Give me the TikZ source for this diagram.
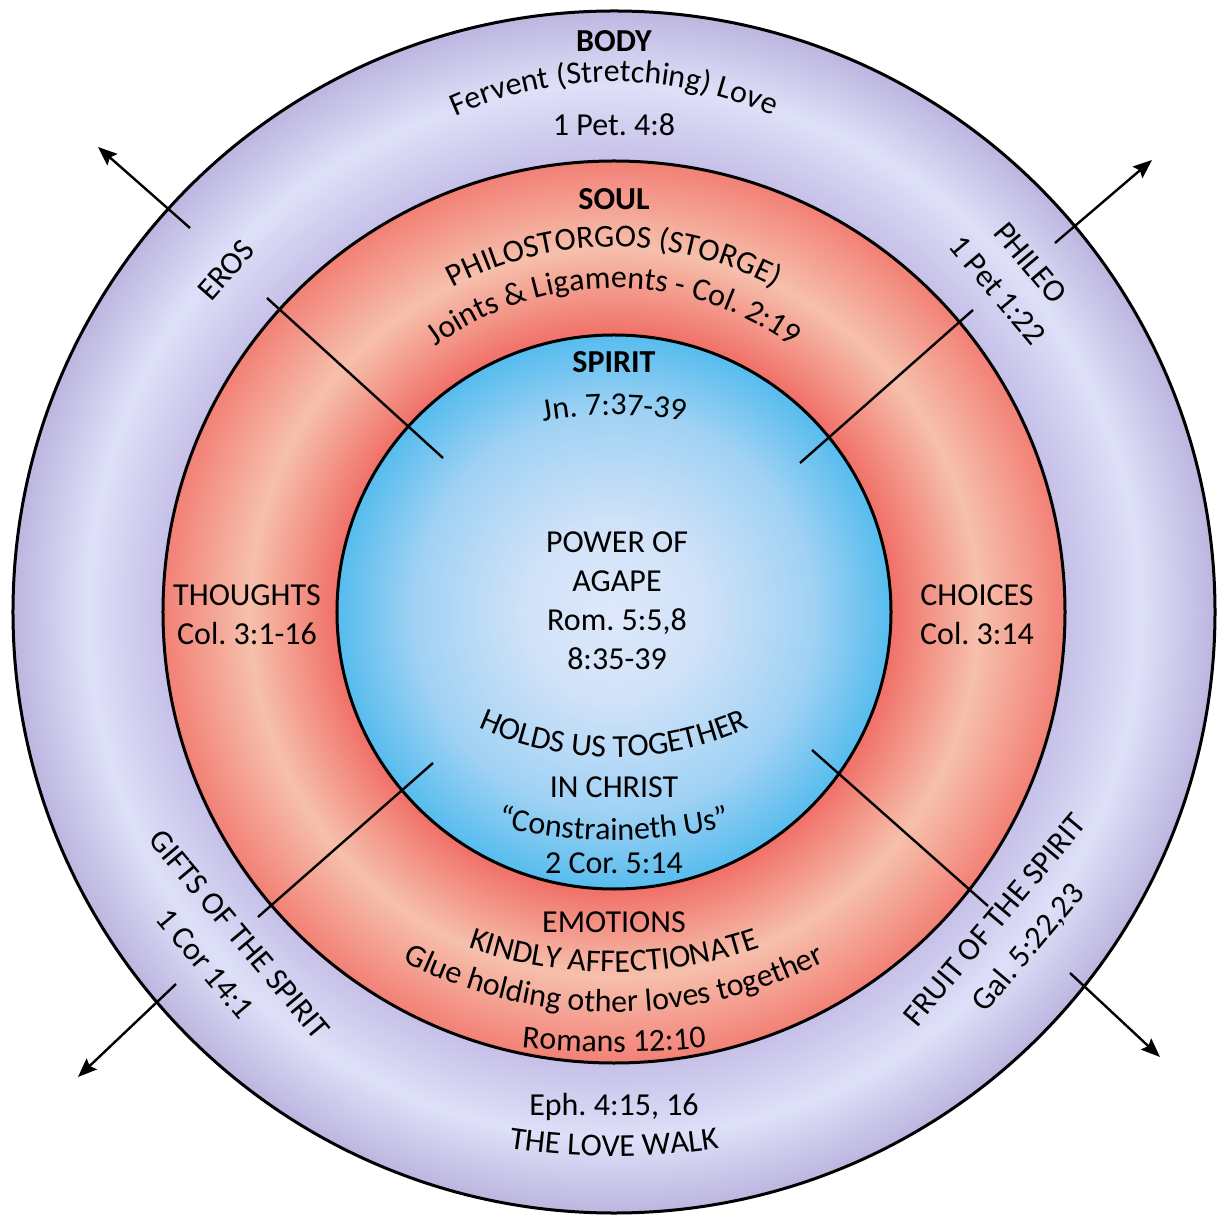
\documentclass[tikz,border=0pt]{standalone}
\usepackage{fontspec}
\setmainfont{Carlito}
\usepackage{xcolor}
\usepackage{tikz}
\usetikzlibrary{arrows.meta, decorations.text}

\definecolor{bodyedge}{RGB}{188,182,224}
\definecolor{bodymid}{RGB}{222,224,248}
\definecolor{bodyinner}{RGB}{198,192,232}
\definecolor{souledge}{RGB}{242,128,118}
\definecolor{soulmid}{RGB}{246,192,172}
\definecolor{soulinner}{RGB}{240,112,104}
\definecolor{spiritmid}{RGB}{222,232,250}
\definecolor{spiritsoft}{RGB}{208,226,248}
\definecolor{spiritblue}{RGB}{160,210,244}
\definecolor{spiritedge}{RGB}{86,188,238}

\pgfdeclareradialshading{bodyring}{\pgfpoint{0bp}{0bp}}{%
  color(0bp)=(bodyinner); color(18.76bp)=(bodyinner); color(21.9bp)=(bodymid);
  color(25bp)=(bodyedge); color(50bp)=(bodyedge)}
\pgfdeclareradialshading{soulring}{\pgfpoint{0bp}{0bp}}{%
  color(0bp)=(soulinner); color(15.35bp)=(soulinner); color(20.2bp)=(soulmid);
  color(25bp)=(souledge); color(50bp)=(souledge)}
\pgfdeclareradialshading{spiritdisc}{\pgfpoint{0bp}{0bp}}{%
  color(0bp)=(spiritmid); color(8bp)=(spiritsoft); color(18bp)=(spiritblue);
  color(25bp)=(spiritedge); color(50bp)=(spiritedge)}

\newcommand\ringfont{\fontsize{16}{19.5}\selectfont}
\frenchspacing

\begin{document}
\begin{tikzpicture}[
    x=0.5pt, y=0.5pt,
    font=\ringfont,
    ring/.style={draw=black, line width=1.5pt},
    heading/.style={font=\ringfont\bfseries, anchor=base},
    words/.style={align=center, inner sep=0pt},
    line/.style={anchor=base, inner sep=0pt},
    spoke/.style={draw=black, line width=1.2pt},
    outward/.style={spoke, -{Stealth[length=9.5pt, width=7.5pt, inset=1.5pt]}},
    curved/.style={decorate, decoration={text along path, text align=center,
                   text={|\ringfont|#1}}}
]
\useasboundingbox (-614,-607) rectangle (610,612);
\fill[white] (-614,-607) rectangle (610,612);

% the three circles
\shade[ring, shading=bodyring] (0,0) circle (601);
\shade[ring, shading=soulring] (0,0) circle (451);
\shade[ring, shading=spiritdisc] (0,0) circle (277);

% spokes and arrows
\coordinate (ul-in)  at (-171,154);
\coordinate (ul-out) at (-347,314);
\coordinate (ul-tail) at (-424,384);
\coordinate (ul-tip)  at (-516,465);
\coordinate (ur-in)  at (186,149);
\coordinate (ur-out) at (359,302);
\coordinate (ur-tail) at (441,369);
\coordinate (ur-tip)  at (538,452);
\coordinate (ll-in)  at (-181,-151);
\coordinate (ll-out) at (-356,-305);
\coordinate (ll-tail) at (-438,-372);
\coordinate (ll-tip)  at (-536,-465);
\coordinate (lr-in)  at (198,-138);
\coordinate (lr-out) at (374,-294);
\coordinate (lr-tail) at (456,-361);
\coordinate (lr-tip)  at (546,-445);
\draw[spoke] (ul-in) -- (ul-out);
\draw[spoke] (ur-in) -- (ur-out);
\draw[spoke] (ll-in) -- (ll-out);
\draw[spoke] (lr-in) -- (lr-out);
\draw[outward] (ul-tail) -- (ul-tip);
\draw[outward] (ur-tail) -- (ur-tip);
\draw[outward] (ll-tail) -- (ll-tip);
\draw[outward] (lr-tail) -- (lr-tip);

% body ring
\node[heading] (body) at (0,560) {BODY};
\path[curved={Fervent (Stretching) Love}] ([shift={(0,145)}]160:385) arc[start angle=160, end angle=20, radius=385];
\node[line] (bodyref) at (0,476) {1 Pet. 4:8};
\node[words, rotate=48.6] (eros) at (138.6:517) {EROS};
\node[words, rotate=-50] (phileo) at (40:522) {PHILEO\\[2pt]1 Pet 1:22};
\node[words, rotate=-50] (gifts) at (220.7:517) {GIFTS OF THE SPIRIT\\[3pt]1 Cor 14:1};
\node[words, rotate=50] (fruit) at (-39:513) {FRUIT OF THE SPIRIT\\[2pt]Gal. 5:22,23};
\node[line] (eph) at (0,-503) {Eph. 4:15, 16};
\path[curved={THE LOVE WALK}] ([shift={(0,156)}]200:700) arc[start angle=200, end angle=340, radius=700];

% soul ring
\node[heading] (soul) at (0,402) {SOUL};
\path[curved={PHILOSTORGOS (STORGE)}] ([shift={(0,25)}]160:340) arc[start angle=160, end angle=20, radius=340];
\path[curved={Joints {\&} Ligaments - Col. 2:19}] ([shift={(0,24)}]160:300) arc[start angle=160, end angle=20, radius=300];
\node[words] (thoughts) at (-367,-3) {THOUGHTS\\Col. 3:1-16};
\node[words] (choices) at (363,-3) {CHOICES\\Col. 3:14};
\node[line] (emotions) at (0,-320) {EMOTIONS};
\path[curved={KINDLY AFFECTIONATE}] ([shift={(0,90)}]200:450) arc[start angle=200, end angle=340, radius=450];
\path[curved={Glue holding other loves together}] ([shift={(0,70)}]200:470) arc[start angle=200, end angle=340, radius=470];
\path[curved={Romans 12:10}] ([shift={(0,460)}]240:900) arc[start angle=240, end angle=300, radius=900];

% spirit disc
\node[heading] (spirit) at (0,239) {SPIRIT};
\path[curved={Jn. 7:37-39}] ([shift={(0,-203)}]130:400) arc[start angle=130, end angle=50, radius=400];
\node[words] (power) at (3,11) {POWER OF\\AGAPE\\Rom. 5:5,8\\8:35-39};
\path[curved={HOLDS US TOGETHER}] ([shift={(0,185)}]200:330) arc[start angle=200, end angle=340, radius=330];
\node[line] (christ) at (0,-185) {IN CHRIST};
\path[curved={“Constraineth Us”}] ([shift={(0,272)}]220:500) arc[start angle=220, end angle=320, radius=500];
\node[line] (cor) at (0,-261) {2 Cor. 5:14};
\end{tikzpicture}
\end{document}
